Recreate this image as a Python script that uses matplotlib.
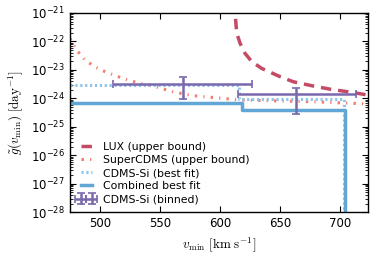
import matplotlib
matplotlib.use("Agg")
import matplotlib.pyplot as plt
from matplotlib.ticker import LogLocator
import numpy as np

# values, y given as log10
# LUX upper bound
lux_v = [611.5, 612.5, 613.9, 616.7, 620.8, 626.4, 634.7, 650.0, 661.1, 677.8, 691.7, 711.1, 725.0]
lux_logg = [-20.6, -21.0, -21.71, -22.07, -22.42, -22.71, -22.95, -23.24, -23.42,
            -23.57, -23.68, -23.80, -23.90]

# SuperCDMS upper bound
scdms_v = [475.0, 480.6, 487.5, 495.8, 505.6, 515.3, 525.0, 536.0, 545.8, 561.0, 576.0, 616.7, 677.5, 725.0]
scdms_logg = [-21.89, -22.30, -22.65, -22.89, -23.09, -23.24, -23.38, -23.50, -23.59,
              -23.77, -23.90, -24.06, -24.12, -24.2]

# CDMS-Si best fit (step)
si_v = [475.0, 616.0, 616.0, 703.5, 703.5]
si_logg = [-23.54, -23.54, -24.03, -24.03, -29]

# combined best fit (step)
comb_v = [475.0, 618.0, 618.0, 704.0, 704.0]
comb_logg = [-24.17, -24.17, -24.41, -24.41, -29]

# CDMS-Si binned
bin_v = [569.0, 663.0]
bin_lo = [511.0, 614.7]
bin_hi = [626.4, 713.3]
bin_logg = [-23.50, -23.86]
bin_logg_lo = [-24.04, -24.55]
bin_logg_hi = [-23.26, -23.63]

fig = plt.figure(figsize=(3.88, 2.59), dpi=100)
ax = fig.add_axes([0.180, 0.181, 0.768, 0.769])

ax.plot(lux_v, 10.0 ** np.array(lux_logg), color="#c44a66", ls=(0, (3, 2)), lw=2.5,
        label="LUX (upper bound)")
ax.plot(scdms_v, 10.0 ** np.array(scdms_logg), color="#f07f6e", ls=(0, (0.8, 2.0, 0.4, 2.0)), lw=2.2,
        label="SuperCDMS (upper bound)")
ax.plot(si_v, 10.0 ** np.array(si_logg), color="#8cc4ea", ls=(0, (0.7, 0.9)), lw=2.2,
        label="CDMS-Si (best fit)")
ax.plot(comb_v, 10.0 ** np.array(comb_logg), color="#62a6d6", lw=2.5, label="Combined best fit")

g = 10.0 ** np.array(bin_logg)
xerr = [np.array(bin_v) - np.array(bin_lo), np.array(bin_hi) - np.array(bin_v)]
yerr = [g - 10.0 ** np.array(bin_logg_lo), 10.0 ** np.array(bin_logg_hi) - g]
ax.errorbar(bin_v, g, xerr=xerr, yerr=yerr, fmt="none", ecolor="#7a68ad",
            elinewidth=1.8, capsize=3, capthick=1.2, label="CDMS-Si (binned)")

ax.set_yscale("log")
ax.set_xlim(475, 723)
ax.set_ylim(1e-28, 1e-21)
ax.yaxis.set_major_locator(LogLocator(base=10, numticks=20))
ax.yaxis.set_minor_locator(LogLocator(base=10, subs=np.arange(2, 10), numticks=20))
ax.set_xticks([500, 550, 600, 650, 700])
ax.tick_params(which="both", direction="in", top=True, right=True, labelsize=8.5)
ax.tick_params(which="major", length=4)
ax.tick_params(which="minor", length=2)
for s in ax.spines.values():
    s.set_linewidth(1.0)

ax.set_xlabel(r"$v_{\rm min}\ [{\rm km\ s}^{-1}]$", fontsize=9.5, math_fontfamily="cm")
ax.set_ylabel(r"$\tilde{g}(v_{\rm min})\ [{\rm day}^{-1}]$", fontsize=9.5, math_fontfamily="cm")

ax.legend(loc="lower left", frameon=False, fontsize=7.8, numpoints=2, handlelength=1.6,
          labelspacing=0.3, borderaxespad=0.3)

fig.savefig("out.png", dpi=100)
